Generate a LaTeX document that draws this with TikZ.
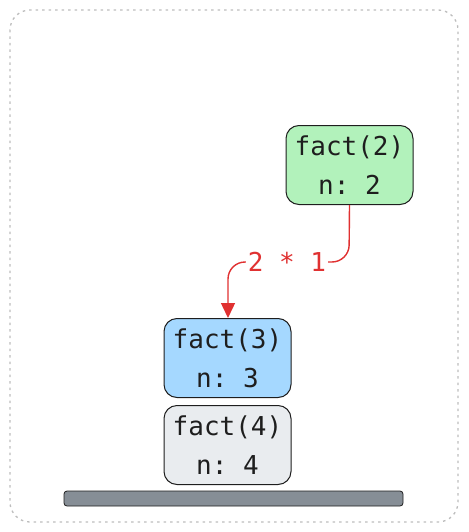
\documentclass[tikz,border=0pt]{standalone}
\usepackage{fontspec}
\setmonofont{DejaVu Sans Mono}
\usetikzlibrary{arrows.meta}
\definecolor{frameC}{HTML}{BDBDBD}
\definecolor{greenF}{HTML}{B2F2BB}
\definecolor{blueF}{HTML}{A5D8FF}
\definecolor{grayF}{HTML}{E9ECEF}
\definecolor{barF}{HTML}{868E96}
\definecolor{redC}{HTML}{E03131}
\definecolor{inkC}{HTML}{1E1E1E}
\tikzset{
  frame/.style={draw=frameC, line width=1.3pt, dash pattern=on 2.5pt off 4pt, rounded corners=20pt},
  frameBox/.style={draw=inkC, line width=1pt, rounded corners=13pt, minimum width=127pt, minimum height=79pt, inner sep=0pt, align=center, font=\ttfamily\fontsize{26}{39}\selectfont, text=inkC},
  barBox/.style={draw=inkC, line width=0.8pt, fill=barF, rounded corners=3pt, minimum width=339pt, minimum height=15pt, inner sep=0pt},
  retArrow/.style={draw=redC, line width=1.4pt, -{Triangle[length=15pt,width=14pt]}},
  retLabel/.style={text=redC, font=\ttfamily\fontsize{26}{30}\selectfont, fill=white, inner sep=2pt}
}
\begin{document}
\begin{tikzpicture}[x=1pt,y=-1pt]
\useasboundingbox (0,0) rectangle (468,532);
\draw[frame] (10,10) rectangle (458,522);
\node[frameBox, fill=greenF] (f2) at (349.5,165) {fact(2)\\n: 2};
\node[frameBox, fill=blueF] (f3) at (227.5,358) {fact(3)\\n: 3};
\node[frameBox, fill=grayF] (f4) at (227.5,445) {fact(4)\\n: 4};
\node[barBox] (bar) at (233.5,498.5) {};
\coordinate (lab) at (287,262);
\draw[retArrow, rounded corners=17pt] (f2.south) -- (349,262) -- (228,262) -- (f3.north -| 228,0);
\node[retLabel] (rl) at (lab) {2 * 1};
\end{tikzpicture}
\end{document}
